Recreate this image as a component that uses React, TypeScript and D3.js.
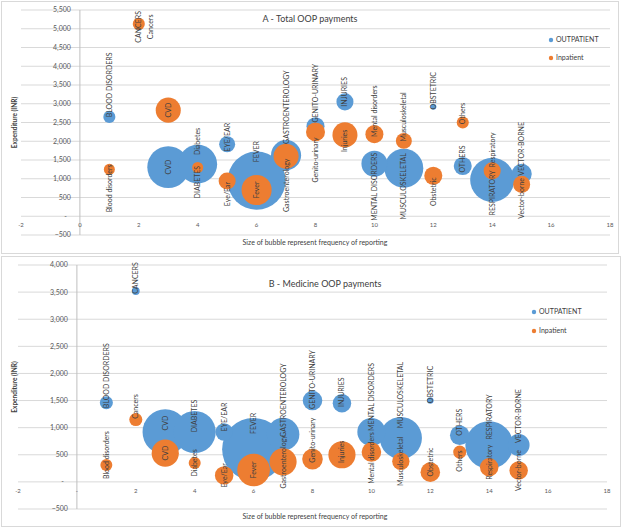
import * as d3 from "d3";
import { useEffect, useRef } from "react";

// categories sit at x = 1..15
const categories = [
  "Blood disorders", "Cancers", "CVD", "Diabetes", "Eye/Ear", "Fever",
  "Gastroenterology", "Genito-urinary", "Injuries", "Mental disorders",
  "Musculoskeletal", "Obstetric", "Others", "Respiratory", "Vector-borne",
];
const outpatientLabels = categories.map((c) => c.toUpperCase());
const inpatientLabels = categories;

// A - Total OOP payments (INR)
const totalOutpatient = [2650, 5050, 1310, 1390, 1920, 950, 1630, 2400, 3050, 1400, 1280, 2920, 1340, 970, 1130];
const totalInpatient = [1250, 5130, 2830, 1300, 940, 700, 1600, 2250, 2170, 2190, 2010, 1080, 2500, 1210, 850];

// B - Medicine OOP payments (INR)
const medicineOutpatient = [1460, 3520, 920, 920, 920, 600, 880, 1500, 1450, 920, 810, 1500, 860, 680, 680];
const medicineInpatient = [310, 1150, 530, 350, 120, 220, 370, 420, 500, 550, 380, 180, 550, 270, 210];

// frequency of reporting (bubble size)
const freqOutpatient = [125, 45, 1510, 1300, 220, 2900, 780, 280, 250, 580, 1300, 30, 280, 1670, 350];
const freqInpatient = [105, 125, 540, 105, 250, 780, 540, 310, 540, 280, 220, 280, 125, 250, 250];

const xTicks = [-2, 0, 2, 4, 6, 8, 10, 12, 14, 16, 18];
const yTicksA = d3.range(-500, 5501, 500);
const yTicksB = d3.range(-500, 4001, 500);

// label vertical offsets (px, from bubble centre), layout only
const dyTotalOut = [-32, 0, 0, 18, -7, -29, -48, -33, -10, 23, 18, -16, -7, 13, -25];
const dyTotalIn = [19, 3, 0, -26, 13, 0, 29, 28, 6, -23, -24, 16, -9, -21, 14];
const dyMedOut = [-27, -13, -9, -16, -15, -26, -34, -21, -11, -35, -43, -16, -13, -28, -29];
const dyMedIn = [-10, -13, 0, 0, 0, 0, 0, -19, -3, 6, 0, -10, 9, -5, 0];

const BLUE = "#5b9bd5";
const ORANGE = "#ed7d31";
const FONT = "Lato, 'Open Sans', sans-serif";

const ChartDraw = () => {
  const chartRef = useRef(null);

  useEffect(() => {
    const svg = d3.select(chartRef.current);
    svg.selectAll("*").remove();

    const maxFreq = d3.max([...freqOutpatient, ...freqInpatient]);

    const panels = [
      {
        box: [1.5, 1.5, 617, 252],
        title: "A - Total OOP payments", titleY: 22,
        x: [21, 610], y: [235, 10], yDomain: [-500, 5500], yTicks: yTicksA,
        out: totalOutpatient, inn: totalInpatient, dyOut: dyTotalOut, dyIn: dyTotalIn,
        legend: [551, 40, 58], xTitleY: 245, zeroX: "0", titleX: 310,
      },
      {
        box: [1.5, 256.5, 619, 270],
        title: "B - Medicine OOP payments", titleY: 287,
        x: [18, 607], y: [509, 265], yDomain: [-500, 4000], yTicks: yTicksB,
        out: medicineOutpatient, inn: medicineInpatient, dyOut: dyMedOut, dyIn: dyMedIn,
        legend: [534, 312, 331], xTitleY: 519, zeroX: "-", titleX: 325,
      },
    ];

    panels.forEach((p) => {
      const g = svg.append("g");

      g.append("rect")
        .attr("x", p.box[0]).attr("y", p.box[1])
        .attr("width", p.box[2]).attr("height", p.box[3])
        .attr("fill", "#fff").attr("stroke", "#d9d9d9");

      const xScale = d3.scaleLinear().domain([-2, 18]).range(p.x);
      const yScale = d3.scaleLinear().domain(p.yDomain).range(p.y);
      const rScale = d3.scaleSqrt().domain([0, maxFreq]).range([0, 0.129 * (p.y[0] - p.y[1])]);
      const fmt = d3.format(",");

      // gridlines
      g.selectAll(".grid")
        .data(p.yTicks)
        .enter()
        .append("line")
        .attr("x1", xScale(-2)).attr("x2", xScale(18))
        .attr("y1", (d) => yScale(d)).attr("y2", (d) => yScale(d))
        .attr("stroke", "#d9d9d9").attr("stroke-width", 1);

      // vertical axis at x = 0
      g.append("line")
        .attr("x1", xScale(0)).attr("x2", xScale(0))
        .attr("y1", yScale(p.yDomain[1])).attr("y2", yScale(p.yDomain[0]))
        .attr("stroke", "#bfbfbf");

      // y tick labels
      g.selectAll(".ytick")
        .data(p.yTicks)
        .enter()
        .append("text")
        .attr("x", (d) => xScale(0) - (d === 0 ? 13 : 9))
        .attr("y", (d) => yScale(d))
        .attr("dy", "0.35em")
        .attr("text-anchor", "end")
        .attr("font-size", 7)
        .attr("fill", "#595959")
        .text((d) => (d === 0 ? "-" : fmt(d)));

      // x tick labels
      g.selectAll(".xtick")
        .data(xTicks)
        .enter()
        .append("text")
        .attr("x", (d) => xScale(d))
        .attr("y", yScale(0) + 11)
        .attr("text-anchor", "middle")
        .attr("font-size", 6)
        .attr("fill", "#595959")
        .text((d) => (d === 0 ? p.zeroX : String(d)));

      // bubbles: outpatient first, inpatient on top
      const series = [
        { vals: p.out, freq: freqOutpatient, color: BLUE },
        { vals: p.inn, freq: freqInpatient, color: ORANGE },
      ];
      series.forEach((s) => {
        const pts = s.vals.map((v, i) => ({ x: i + 1, y: v, f: s.freq[i] }))
          .sort((a, b) => b.f - a.f);
        g.selectAll(null)
          .data(pts)
          .enter()
          .append("circle")
          .attr("cx", (d) => xScale(d.x))
          .attr("cy", (d) => yScale(d.y))
          .attr("r", (d) => rScale(d.f))
          .attr("fill", s.color);
      });

      // bubble labels (rotated)
      const labelSets = [
        { vals: p.out, names: outpatientLabels, dy: p.dyOut, dx: categories.map(() => 0) },
        { vals: p.inn, names: inpatientLabels, dy: p.dyIn, dx: categories.map((c, i) => (p.zeroX === "0" && i === 1 ? 12 : 0)) },
      ];
      labelSets.forEach((ls) => {
        g.selectAll(null)
          .data(ls.vals)
          .enter()
          .append("text")
          .attr("transform", (d, i) =>
            `translate(${xScale(i + 1) + ls.dx[i]},${yScale(d) + ls.dy[i]}) rotate(-90)`)
          .attr("text-anchor", "middle")
          .attr("dy", "0.35em")
          .attr("font-size", 7)
          .attr("fill", "#404040")
          .text((d, i) => ls.names[i]);
      });

      // title
      g.append("text")
        .attr("x", p.titleX).attr("y", p.titleY)
        .attr("text-anchor", "middle")
        .attr("font-size", 9)
        .attr("fill", "#404040")
        .text(p.title);

      // legend
      const legendItems = [["OUTPATIENT", BLUE], ["Inpatient", ORANGE]];
      legendItems.forEach(([name, color], i) => {
        const ly = p.legend[1 + i];
        g.append("circle").attr("cx", p.legend[0]).attr("cy", ly).attr("r", 2.2).attr("fill", color);
        g.append("text")
          .attr("x", p.legend[0] + 5).attr("y", ly)
          .attr("dy", "0.35em")
          .attr("font-size", 7)
          .attr("fill", "#404040")
          .text(name);
      });

      // axis titles
      g.append("text")
        .attr("x", 315).attr("y", p.xTitleY)
        .attr("text-anchor", "middle")
        .attr("font-size", 7)
        .attr("fill", "#404040")
        .text("Size of bubble represent frequency of reporting");

      const midY = (p.y[0] + p.y[1]) / 2;
      g.append("text")
        .attr("transform", `translate(15,${midY}) rotate(-90)`)
        .attr("text-anchor", "middle")
        .attr("dy", "0.35em")
        .attr("font-size", 6.5)
        .attr("font-weight", "bold")
        .attr("fill", "#404040")
        .text("Expenditure (INR)");
    });
  }, []);

  return (
    <svg
      ref={chartRef}
      width="622"
      height="529"
      style={{ position: "absolute", left: 0, top: 0, fontFamily: FONT, background: "#fff" }}
    ></svg>
  );
};

export default function App() {
  return <ChartDraw />;
}
